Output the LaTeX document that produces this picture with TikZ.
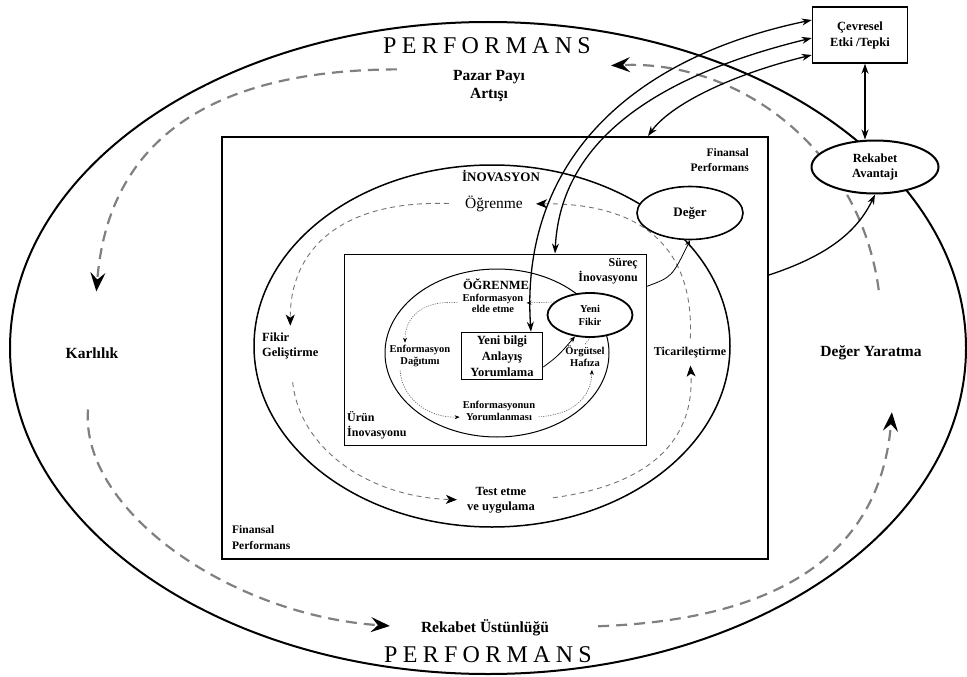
\documentclass[tikz,border=0pt]{standalone}
\usepackage{fontspec}
\setmainfont{Liberation Serif}
\usetikzlibrary{arrows.meta,shapes.geometric}
\tikzset{
  shapebox/.style={draw, line width=1.8pt, inner sep=0pt},
  oval/.style={ellipse, draw, line width=1.6pt, fill=white, inner sep=0pt, align=center, font=\bfseries\fontsize{12.5}{15}\selectfont},
  bigtxt/.style={font=\bfseries\fontsize{15.5}{18}\selectfont, align=center, inner sep=1pt},
  midtxt/.style={font=\bfseries\fontsize{12.5}{15}\selectfont, align=center, inner sep=1pt},
  smalltxt/.style={font=\bfseries\fontsize{10.5}{12.5}\selectfont, align=center, inner sep=1pt},
  perftxt/.style={font=\fontsize{24}{24}\selectfont\addfontfeature{LetterSpace=22}, inner sep=0pt},
  outerloop/.style={line width=2.2pt, draw=black!50, dash pattern=on 11pt off 7pt, -{Stealth[length=19pt,width=15pt,inset=7pt,color=black]}},
  innerloop/.style={line width=0.9pt, draw=black!55, dash pattern=on 5pt off 4pt, -{Stealth[length=11pt,width=9pt,inset=3pt,color=black]}},
  learnloop/.style={line width=0.6pt, draw=black!60, dash pattern=on 1.2pt off 1.2pt, -{Stealth[length=5pt,width=4pt,color=black]}},
  link/.style={line width=1.3pt, {Stealth[length=10pt,width=7pt]}-{Stealth[length=10pt,width=7pt]}},
  thinlink/.style={line width=0.8pt, -{Stealth[length=6pt,width=5pt]}}
}
\begin{document}
\begin{tikzpicture}[x=1pt, y=-1pt]
   \useasboundingbox (0,0) rectangle (967,677);
   \node[ellipse, draw, line width=2pt, minimum width=956pt, minimum height=652pt, inner sep=0pt] (perfEll) at (488,348) {};
   \node[shapebox, minimum width=546pt, minimum height=422pt] (finRect) at (495,348) {};
   \node[ellipse, draw, line width=1.5pt, minimum width=476pt, minimum height=362pt, inner sep=0pt] (inovEll) at (492,346) {};
   \node[draw, line width=1pt, minimum width=302pt, minimum height=191pt, inner sep=0pt] (inRect) at (495,349.5) {};
   \node[ellipse, draw, line width=1pt, minimum width=224pt, minimum height=168pt, inner sep=0pt] (ogrEll) at (497,353) {};

   \node[perftxt] (perfTop) at (487,46) {PERFORMANS};
   \node[perftxt] (perfBot) at (488,655) {PERFORMANS};
   \node[bigtxt] (pazar) at (489,86) {Pazar Payı\\Artışı};
   \node[bigtxt] (karlilik) at (92,353) {Karlılık};
   \node[bigtxt] (degerYar) at (871,353) {Değer Yaratma};
   \node[bigtxt] (rekUst) at (485,628) {Rekabet Üstünlüğü};
   \node[midtxt, font=\bfseries\fontsize{13}{15}\selectfont] (inov) at (501,176) {İNOVASYON};
   \node[bigtxt, font=\fontsize{15.5}{18}\selectfont] (ogrenme) at (494,204) {Öğrenme};
   \node[midtxt, align=left, anchor=west] (fikir) at (261,346) {Fikir\\Geliştirme};
   \node[midtxt, font=\bfseries\fontsize{12}{15}\selectfont] (ticari) at (690,353) {Ticarileştirme};
   \node[midtxt] (test) at (501,500) {Test etme\\ve uygulama};
   \node[midtxt, font=\bfseries\fontsize{11.5}{14.5}\selectfont, align=right, anchor=east] (finTop) at (750,160) {Finansal\\Performans};
   \node[midtxt, font=\bfseries\fontsize{11.5}{16}\selectfont, align=left, anchor=west] (finBot) at (231,538) {Finansal\\Performans};
   \node[midtxt, font=\bfseries\fontsize{12}{15}\selectfont, align=right, anchor=east] (surec) at (639,271) {Süreç\\İnovasyonu};
   \node[midtxt, font=\bfseries\fontsize{12}{15}\selectfont, align=left, anchor=west] (urun) at (346,425) {Ürün\\İnovasyonu};
   \node[midtxt] (ogrBig) at (496,284) {ÖĞRENME};
   \node[smalltxt, font=\bfseries\fontsize{10.5}{11}\selectfont] (enfElde) at (493,303) {Enformasyon\\elde etme};
   \node[smalltxt] (enfDag) at (420,356) {Enformasyon\\Dağıtımı};
   \node[smalltxt] (enfYor) at (499,411) {Enformasyonun\\Yorumlanması};
   \node[smalltxt] (orgut) at (585,356) {Örgütsel\\Hafıza};

   \draw[outerloop, shorten <=55pt, shorten >=55pt] (pazar.north west) .. controls (240,70) and (110,120) .. (karlilik.north);
   \draw[outerloop, shorten <=50pt, shorten >=30pt] (karlilik.south) .. controls (80,510) and (230,615) .. (rekUst.west);
   \draw[outerloop, shorten <=48pt, shorten >=51pt] (rekUst.east) .. controls (770,620) and (880,560) .. ([xshift=25pt]degerYar.south);
   \draw[outerloop, shorten <=55pt, shorten >=85pt] ([xshift=15pt]degerYar.north) .. controls (860,150) and (740,60) .. (pazar.north east);

   \draw[innerloop, shorten <=15pt, shorten >=6pt] (ogrenme.west) .. controls (340,200) and (290,250) .. (fikir.north);
   \draw[innerloop, shorten <=22pt, shorten >=9pt] (fikir.south) .. controls (300,450) and (370,497) .. (test.west);
   \draw[innerloop, shorten <=17pt, shorten >=6pt] (test.east) .. controls (650,485) and (695,440) .. (ticari.south);
   \draw[innerloop, shorten <=8pt, shorten >=12pt] (ticari.north) .. controls (695,230) and (620,203) .. (ogrenme.east);

   \node[oval, font=\bfseries\fontsize{13}{15}\selectfont, minimum width=106pt, minimum height=53pt] (deger) at (690,213) {Değer};
   \node[oval, line width=2pt, minimum width=127pt, minimum height=53pt] (rekabet) at (875,167) {Rekabet\\Avantajı};
   \node[oval, line width=1.8pt, font=\bfseries\fontsize{10.5}{13}\selectfont, minimum width=85pt, minimum height=44pt] (yeniFikir) at (590,315) {Yeni\\Fikir};
   \node[draw, fill=white, line width=1.6pt, inner sep=1pt, minimum width=81pt, minimum height=47pt, align=center, font=\bfseries\fontsize{12.5}{16}\selectfont] (yeniBilgi) at (502,356) {Yeni bilgi\\Anlayış\\Yorumlama};
   \node[draw, fill=white, line width=1.5pt, inner sep=1pt, minimum width=95pt, minimum height=56pt, align=center, font=\bfseries\fontsize{12.5}{16}\selectfont] (cevresel) at (860,35) {Çevresel\\Etki /Tepki};

   \draw[learnloop, shorten >=2pt] (yeniFikir.160) -- (enfElde.east);
   \draw[learnloop, shorten <=4pt, shorten >=1pt] (enfElde.west) .. controls (425,300) and (405,315) .. ([xshift=-15pt]enfDag.north);
   \draw[learnloop, shorten <=2pt, shorten >=2pt] ([xshift=-20pt]enfDag.south) .. controls (402,400) and (430,418) .. ([yshift=-6pt]enfYor.west);
   \draw[learnloop, shorten <=2pt, shorten >=2pt] ([yshift=-6pt]enfYor.east) .. controls (570,415) and (591,400) .. ([xshift=7pt]orgut.south);
   \draw[line width=0.6pt, draw=black!60, dash pattern=on 1.2pt off 1.2pt] (orgut.north) -- (yeniFikir.south);
   \draw[thinlink] (yeniBilgi.-15) .. controls (558,356) .. (yeniFikir.235);

   \draw[thinlink] ([yshift=-33pt]inRect.north east) .. controls (672,277) .. (deger.south);
   \draw[line width=1.3pt, -{Stealth[length=10pt,width=7pt]}] ([yshift=73pt]finRect.east) .. controls (830,255) and (858,230) .. (rekabet.south);
   \draw[link] ([yshift=15pt]cevresel.west) .. controls (620,60) and (520,170) .. (yeniBilgi.40);
   \draw[link] ([yshift=-3pt]cevresel.west) .. controls (640,80) and (560,150) .. ([xshift=60pt]inRect.north);
   \draw[link] ([yshift=-20pt]cevresel.west) .. controls (730,75) and (670,105) .. ([xshift=153pt]finRect.north);
   \draw[link] ([xshift=5pt]cevresel.south) -- ([xshift=-10pt]rekabet.north);
\end{tikzpicture}
\end{document}
